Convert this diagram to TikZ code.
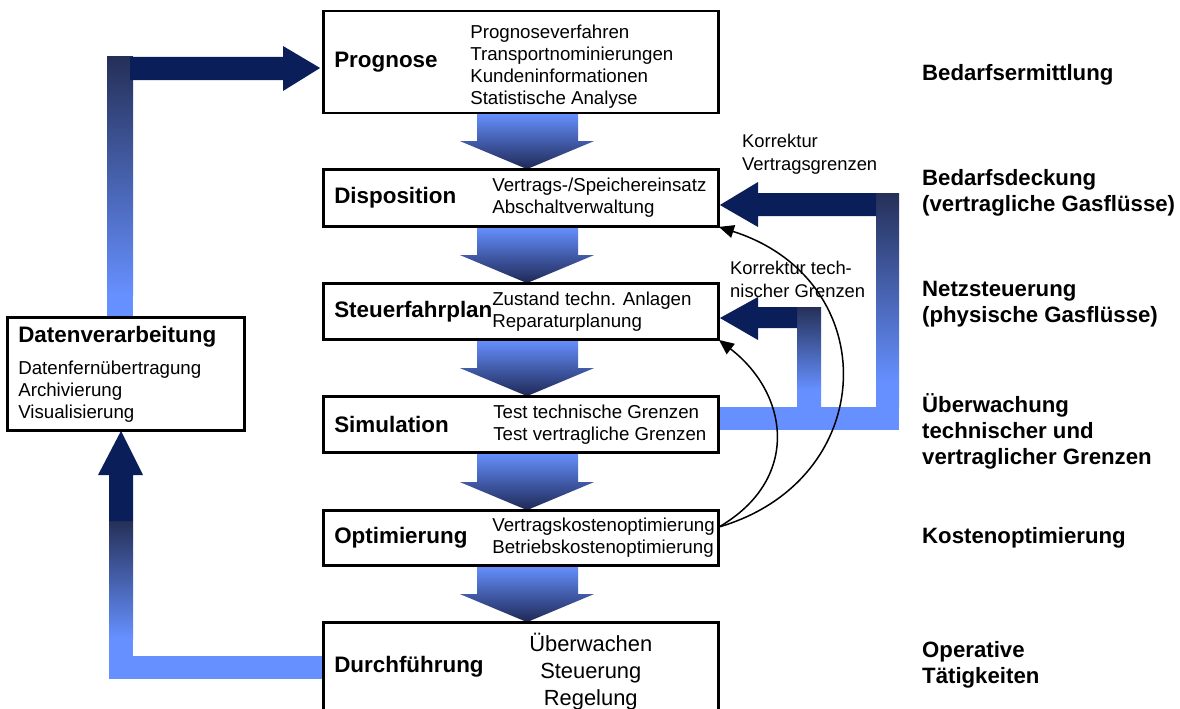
\documentclass[tikz,border=0pt]{standalone}
\usepackage{fontspec}
\setmainfont{Liberation Sans}
\usepackage{xcolor}
\usetikzlibrary{arrows.meta, positioning, calc}

\definecolor{lblue}{RGB}{102,144,255}
\definecolor{navy}{RGB}{10,30,90}
\definecolor{dnavy}{RGB}{37,48,88}
\definecolor{tipnavy}{RGB}{30,40,85}

\begin{document}
\begin{tikzpicture}[
    x=1pt, y=-1pt,
    box/.style={rectangle, draw, line width=1.8pt, minimum width=394pt, inner sep=0pt},
    title/.style={inner sep=0pt, font=\fontsize{22.4}{27}\selectfont\bfseries},
    items/.style={inner sep=0pt, align=left, font=\fontsize{18.7}{22}\selectfont},
    bigitems/.style={inner sep=0pt, align=center, font=\fontsize{21.9}{27}\selectfont},
    side/.style={inner sep=0pt, anchor=west, align=left, font=\fontsize{22.2}{26}\selectfont\bfseries},
    note/.style={inner sep=0pt, anchor=west, align=left, font=\fontsize{18.4}{23}\selectfont},
    drop/.style={top color=lblue, bottom color=tipnavy},
    fade/.style={top color=dnavy, bottom color=lblue},
    feedback/.style={line width=1.5pt, -{Triangle[length=15pt,width=13pt]}}
]
\useasboundingbox (0,0) rectangle (1180,709);

% main chain
\node [box, minimum height=101pt] (prog) at (521,62) {};
\node [box, minimum height=56pt] (disp) at (521,198) {};
\node [box, minimum height=55pt] (stf) at (521,311.5) {};
\node [box, minimum height=55pt] (sim) at (521,424.5) {};
\node [box, minimum height=54pt] (opt) at (521,538) {};
\node [box, minimum height=88pt] (durch) at (521,667) {};
\node [box, minimum width=236pt, minimum height=112pt] (datv) at (126,374) {};

% arrows between the steps
\foreach \a/\b in {prog/disp, disp/stf, stf/sim, sim/opt, opt/durch}
  \path [drop] ($(\a.south)+(-44,0)$) -- ($(\a.south)+(57,0)$) -- ($(\b.north)+(57,-28)$)
    -- ($(\b.north)+(73,-28)$) -- ($(\b.north)+(6,0)$) -- ($(\b.north)+(-61,-28)$)
    -- ($(\b.north)+(-44,-28)$) -- cycle;

% back to Datenverarbeitung and on to Prognose
\fill [lblue] ($(durch.west)+(0,-11)$) -| (109,679) -- ($(durch.west)+(0,12)$) -- cycle;
\fill [lblue] (109,638) rectangle (133,656);
\path [fade] (109,521) rectangle (133,638);
\fill [navy] (109,521) -- (109,475) -- (98,475) -- ($(datv.south)+(-5,0)$) -- (143,475)
  -- (133,475) -- (133,521) -- cycle;
\path [fade] (107,57) rectangle (133,295);
\fill [lblue] (107,295) rectangle (133,318);
\fill [navy] (130,57) -- (283,57) -- (283,46) -- ($(prog.west)+(-3,6)$) -- (283,91)
  -- (283,80) -- (130,80) -- cycle;

% corrections from Simulation
\path [fade] (876,193) rectangle (899,382);
\path [fade] (797,307) rectangle (821,390);
\fill [lblue] (876,382) rectangle (899,407) (797,390) rectangle (821,407);
\fill [lblue] ($(sim.east)+(0,-17.5)$) rectangle (899,430);
\fill [navy] (876,193) -- (758,193) -- (758,182) -- ($(disp.east)+(1,7)$) -- (758,227)
  -- (758,216) -- (876,216) -- cycle;
\fill [navy] (797,307) -- (758,307) -- (758,297) -- ($(stf.east)+(1,6.5)$) -- (758,340)
  -- (758,328) -- (797,328) -- cycle;

% boxes again on top
\foreach \n in {prog, disp, stf, sim, opt, durch, datv}
  \draw [line width=1.8pt] (\n.north west) rectangle (\n.south east);

% texts in the boxes
\node [title, right=11pt of prog.west] (progT) {Prognose};
\node [items, right=147pt of prog.west, yshift=-5pt] (progL) {Prognoseverfahren\\Transportnominierungen\\Kundeninformationen\\Statistische Analyse};
\node [title, right=11pt of disp.west] (dispT) {Disposition};
\node [items, right=169pt of disp.west] (dispL) {Vertrags-/Speichereinsatz\\Abschaltverwaltung};
\node [title, right=11pt of stf.west] (stfT) {Steuerfahrplan};
\node [items, right=169pt of stf.west] (stfL) {Zustand techn. Anlagen\\Reparaturplanung};
\node [title, right=11pt of sim.west] (simT) {Simulation};
\node [items, right=170pt of sim.west] (simL) {Test technische Grenzen\\Test vertragliche Grenzen};
\node [title, right=11pt of opt.west] (optT) {Optimierung};
\node [items, right=169pt of opt.west] (optL) {Vertragskostenoptimierung\\Betriebskostenoptimierung};
\node [title, right=11pt of durch.west] (durchT) {Durchführung};
\node [bigitems, right=206pt of durch.west, yshift=-5pt] (durchL) {Überwachen\\Steuerung\\Regelung};
\node [title, below right=9pt and 11pt of datv.north west] (datvT) {Datenverarbeitung};
\node [items, below right=44pt and 11pt of datv.north west] (datvL) {Datenfernübertragung\\Archivierung\\Visualisierung};

% labels of the corrections
\node [note] (korrV) at (742,154.5) {Korrektur\\Vertragsgrenzen};
\node [note] (korrT) at (730,279) {Korrektur tech-\\nischer Grenzen};

% optimisation feeds back
\coordinate (ostart) at ($(opt.east)+(0,-11)$);
\draw [feedback] (ostart) .. controls (800,480) and (790,395) .. (stf.south east);
\draw [feedback] (ostart) .. controls (880,480) and (885,280) .. (disp.south east);

% column on the right
\node [side] (s1) at (922,75) {Bedarfsermittlung};
\node [side] (s2) at (922,193) {Bedarfsdeckung\\(vertragliche Gasflüsse)};
\node [side] (s3) at (922,304) {Netzsteuerung\\(physische Gasflüsse)};
\node [side] (s4) at (922,431) {Überwachung\\technischer und\\vertraglicher Grenzen};
\node [side] (s5) at (922,538) {Kostenoptimierung};
\node [side] (s6) at (922,665) {Operative\\Tätigkeiten};
\end{tikzpicture}
\end{document}
